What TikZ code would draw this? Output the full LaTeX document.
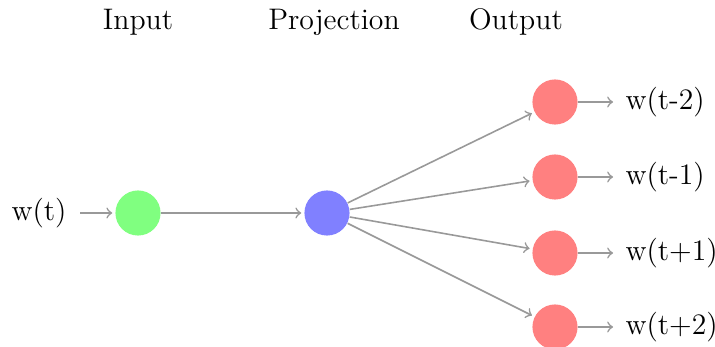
\documentclass[tikz,border=0pt]{standalone}
\usetikzlibrary{arrows}
\begin{document}
\begin{tikzpicture}[x=0.013245cm,y=-0.013245cm,
  font=\fontsize{11.2}{13}\selectfont,
  neuron/.style={circle,fill=black!25,minimum size=17pt,inner sep=0pt},
  inneuron/.style={neuron,fill=green!50},
  projneuron/.style={neuron,fill=blue!50},
  outneuron/.style={neuron,fill=red!50},
  conn/.style={->,draw=gray!80,shorten >=1pt,line width=0.6pt},
  lbl/.style={inner sep=0pt}]
\useasboundingbox (0,0) rectangle (715,347);
\node[lbl] (hin) at (138,22) {Input};
\node[lbl] (hproj) at (334,22) {Projection};
\node[lbl] (hout) at (516,22) {Output};
\node[lbl] (win) at (39,213) {w(t)};
\node[inneuron] (in) at (138,213) {};
\node[projneuron] (proj) at (327,213) {};
\node[outneuron] (o1) at (555,102) {};
\node[outneuron] (o2) at (555,177) {};
\node[outneuron] (o3) at (555,253) {};
\node[outneuron] (o4) at (555,327) {};
\node[lbl,anchor=west] (l1) at (625,102) {w(t-2)};
\node[lbl,anchor=west] (l2) at (625,177) {w(t-1)};
\node[lbl,anchor=west] (l3) at (625,253) {w(t+1)};
\node[lbl,anchor=west] (l4) at (625,327) {w(t+2)};
\draw[conn,shorten <=5pt] (win) -- (in);
\draw[conn] (in) -- (proj);
\foreach \o in {o1,o2,o3,o4} \draw[conn] (proj) -- (\o);
\foreach \o/\l in {o1/l1,o2/l2,o3/l3,o4/l4} \draw[conn,shorten >=4.5pt] (\o) -- (\l);
\end{tikzpicture}
\end{document}
